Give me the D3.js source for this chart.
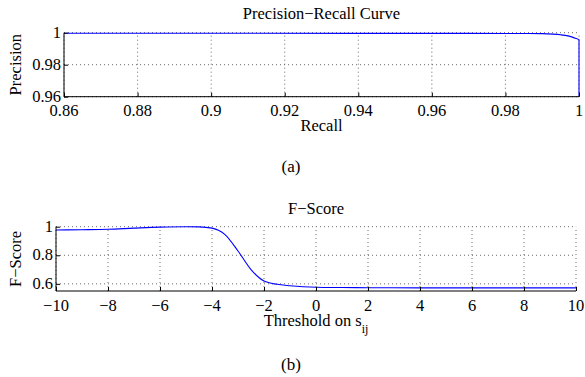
<!DOCTYPE html>
<html>
    <head>
        <meta charset="UTF-8">
        <title>Precision-Recall and F-Score</title>
        <style>
            body {margin:0; background:#fff;}
            svg text {font-family:'Liberation Serif'; fill:#000;}
            .grid line {stroke:#444; stroke-width:0.8px; stroke-dasharray:1,3;}
            .axis path, .axis line {stroke:#000; stroke-width:1px; fill:none;}
            .curve {fill:none; stroke:#0000ff; stroke-width:1.1px;}
        </style>
        <script src="https://cdn.jsdelivr.net/npm/d3@7"></script>
    </head>
    <body>
        <svg width="585" height="377" style="font-family:'Liberation Serif'"></svg>
        <script>
            //... data
            var prRecall    = [0.86, 0.90, 0.94, 0.97, 0.985, 0.99, 0.993, 0.995, 0.997, 0.998, 0.999, 1.0, 1.0];
            var prPrecision = [0.9997, 0.9997, 0.9996, 0.9996, 0.9995, 0.9994, 0.9991, 0.9987, 0.998, 0.9974, 0.9966, 0.9955, 0.95];
            var prXTicks = [0.86, 0.88, 0.90, 0.92, 0.94, 0.96, 0.98, 1.0];
            var prYTicks = [0.96, 0.98, 1.0];

            var fThreshold = [-10, -9, -8, -7, -6, -5, -4.5, -4, -3.5, -3, -2.5, -2, -1.5, -1, -0.5, 0, 1, 2, 4, 6, 8, 10];
            var fScore     = [0.977, 0.979, 0.982, 0.99, 0.997, 1.0, 0.999, 0.99, 0.945, 0.83, 0.70, 0.62, 0.597, 0.587, 0.58, 0.576, 0.574, 0.573, 0.572, 0.572, 0.572, 0.572];
            var fXTicks = [-10, -8, -6, -4, -2, 0, 2, 4, 6, 8, 10];
            var fYTicks = [0.6, 0.8, 1.0];

            var svg = d3.select("svg");
            var FONT = "'Liberation Serif'";
            var fmtNum = function(v) { return String(+v.toFixed(2)).replace("-", "\u2212"); };

            function label(sel, size)
            {
                return sel.style("font-family", FONT).style("font-size", size + "px");
            }

            function panel(o)
            {
                var x = d3.scaleLinear().domain(o.xDomain).range([o.left, o.right]);
                var y = d3.scaleLinear().domain(o.yDomain).range([o.bottom, o.top]);
                var g = svg.append("g");

                //... dotted grid
                var grid = g.append("g").attr("class", "grid");
                grid.selectAll(".gx").data(o.xTicks).enter().append("line")
                    .attr("x1", d => x(d)).attr("x2", d => x(d))
                    .attr("y1", o.bottom).attr("y2", y(o.yTicks[o.yTicks.length-1]));
                grid.selectAll(".gy").data(o.yTicks).enter().append("line")
                    .attr("x1", o.left).attr("x2", o.right)
                    .attr("y1", d => y(d)).attr("y2", d => y(d));

                //... clipped curve
                var clipId = "clip" + o.name;
                g.append("clipPath").attr("id", clipId).append("rect")
                    .attr("x", o.left).attr("y", o.top - 2)
                    .attr("width", o.right - o.left + 2).attr("height", o.bottom - o.top + 2);
                var line = d3.line().x(d => x(d[0])).y(d => y(d[1])).curve(o.curve);
                g.append("path").attr("class", "curve")
                    .attr("clip-path", "url(#" + clipId + ")")
                    .attr("d", line(d3.zip(o.xs, o.ys)));

                //... axes, ticks pointing inward
                g.append("g").attr("class", "axis")
                    .attr("transform", "translate(0," + o.bottom + ")")
                    .call(d3.axisTop(x).tickValues(o.xTicks).tickSize(4).tickFormat(""))
                    .call(a => a.select(".domain").attr("d", "M" + o.left + ",0H" + o.right));
                g.append("g").attr("class", "axis")
                    .attr("transform", "translate(" + o.left + ",0)")
                    .call(d3.axisRight(y).tickValues(o.yTicks).tickSize(4).tickFormat(""))
                    .call(a => a.select(".domain").attr("d", "M0," + o.bottom + "V" + o.top));

                //... tick labels
                label(g.selectAll(".xl").data(o.xTicks).enter().append("text"), 16.5)
                    .attr("x", d => x(d)).attr("y", o.bottom + 19.5)
                    .attr("text-anchor", "middle")
                    .text(fmtNum);
                label(g.selectAll(".yl").data(o.yTicks).enter().append("text"), 16.5)
                    .attr("x", o.left - 3).attr("y", d => y(d) + 5)
                    .attr("text-anchor", "end")
                    .text(fmtNum);

                //... titles
                var cx = (o.left + o.right) / 2;
                label(g.append("text"), 16.5).attr("x", cx).attr("y", o.titleY)
                    .attr("text-anchor", "middle").text(o.title);
                var xl = label(g.append("text"), 16.5).attr("x", cx).attr("y", o.bottom + 34.5)
                    .attr("text-anchor", "middle").text(o.xLabel);
                if (o.xSub) xl.append("tspan").attr("dy", 7).style("font-size", "12px").text(o.xSub);
                label(g.append("text"), 16.5)
                    .attr("transform", "translate(21," + ((o.top + o.bottom) / 2) + ") rotate(-90)")
                    .attr("text-anchor", "middle").text(o.yLabel);
                label(g.append("text"), 17).attr("x", 291).attr("y", o.capY)
                    .attr("text-anchor", "middle").text(o.caption);
            }

            panel({
                name: "a", left: 64, right: 579, top: 32.7, bottom: 96.7,
                xDomain: [0.86, 1.0], yDomain: [0.96, 1.0],
                xTicks: prXTicks, yTicks: prYTicks,
                xs: prRecall, ys: prPrecision, curve: d3.curveMonotoneX,
                title: "Precision\u2212Recall Curve", titleY: 19,
                xLabel: "Recall", yLabel: "Precision",
                caption: "(a)", capY: 172
            });

            panel({
                name: "b", left: 56, right: 576, top: 226.7, bottom: 291,
                xDomain: [-10, 10], yDomain: [0.55, 1.0],
                xTicks: fXTicks, yTicks: fYTicks,
                xs: fThreshold, ys: fScore, curve: d3.curveMonotoneX,
                title: "F\u2212Score", titleY: 214,
                xLabel: "Threshold on s", xSub: "ij", yLabel: "F\u2212Score",
                caption: "(b)", capY: 370
            });
        </script>
    </body>
</html>
